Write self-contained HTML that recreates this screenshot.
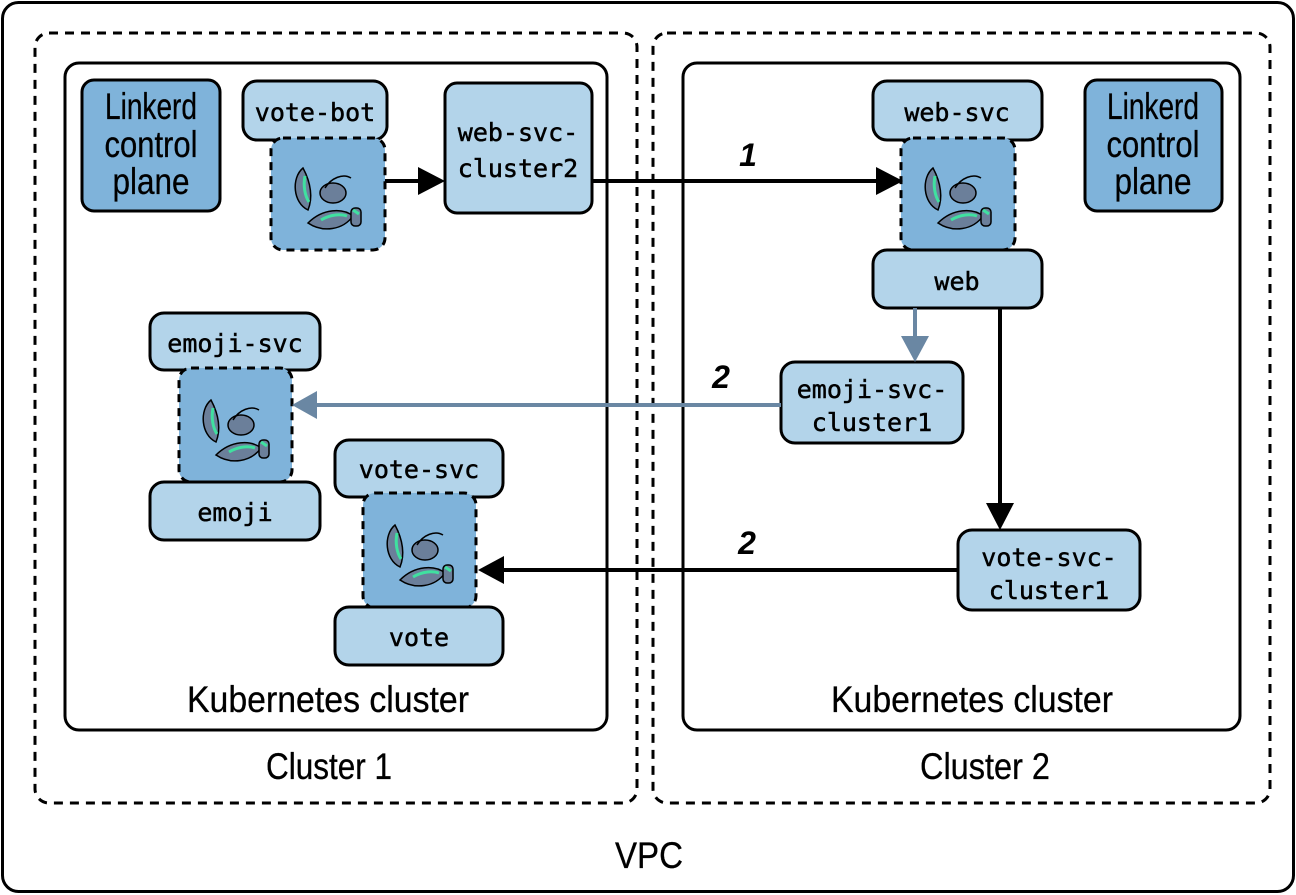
<!DOCTYPE html>
<html><head><meta charset="utf-8"><style>
html,body{margin:0;padding:0;background:#fff;}
svg{display:block}
.m{font-family:"DejaVu Sans Mono","Liberation Mono",monospace;font-size:25px;fill:#000;text-anchor:middle;stroke:#000;stroke-width:0.5}
.s{font-family:"Liberation Sans",sans-serif;font-size:37px;fill:#000;text-anchor:middle;stroke:#000;stroke-width:0.3}
.n{font-family:"Liberation Sans",sans-serif;font-size:32px;font-style:italic;font-weight:bold;fill:#000;text-anchor:middle}
.d{fill:#7fb3da;stroke:#000;stroke-width:3}
.l{fill:#b3d4ea;stroke:#000;stroke-width:3}
.dd{fill:#7fb3da;stroke:#000;stroke-width:3;stroke-dasharray:8 6}
</style></head><body>
<svg width="1296" height="895" viewBox="0 0 1296 895" xmlns="http://www.w3.org/2000/svg">
<defs>
<g id="lob">
 <path d="M20,20 C8,30 10,55 25,62 C30,50 28,35 20,20Z" fill="#6b7f9a" stroke="#000" stroke-width="1.5"/>
 <path d="M22,28 C20,38 22,48 26,54" stroke="#40e0a0" stroke-width="3" fill="none"/>
 <ellipse cx="50" cy="45" rx="13" ry="10" fill="#6b7f9a" stroke="#000" stroke-width="1.5"/>
 <path d="M42,40 C48,30 60,25 68,30" stroke="#000" fill="none" stroke-width="1.5"/>
 <path d="M25,75 C40,60 60,60 70,68 C60,82 40,85 25,75Z" fill="#6b7f9a" stroke="#000" stroke-width="1.5"/>
 <path d="M38,72 C48,66 58,66 64,68" stroke="#40e0a0" stroke-width="3" fill="none"/>
 <rect x="68" y="60" width="10" height="18" rx="4" fill="#6b7f9a" stroke="#000" stroke-width="1.5"/>
 <path d="M70,62 l6,4" stroke="#40e0a0" stroke-width="3"/>
</g>
</defs>
<rect x="2.5" y="2.5" width="1291" height="889" rx="16" fill="none" stroke="#000" stroke-width="3"/>
<rect x="35" y="33" width="602" height="770" rx="14" fill="none" stroke="#000" stroke-width="3" stroke-dasharray="9 7"/>
<rect x="653" y="33" width="617" height="770" rx="14" fill="none" stroke="#000" stroke-width="3" stroke-dasharray="9 7"/>
<rect x="65" y="63" width="542" height="667" rx="14" fill="none" stroke="#000" stroke-width="3"/>
<rect x="683" y="63" width="557" height="667" rx="14" fill="none" stroke="#000" stroke-width="3"/>

<rect class="d" x="82" y="80" width="138" height="131" rx="12"/>
<text class="s" x="151" y="119" textLength="92" lengthAdjust="spacingAndGlyphs">Linkerd</text><text class="s" x="151" y="157" textLength="93" lengthAdjust="spacingAndGlyphs">control</text><text class="s" x="151" y="194" textLength="77" lengthAdjust="spacingAndGlyphs">plane</text>
<rect class="l" x="243" y="81" width="144" height="59" rx="14"/>
<text class="m" x="315" y="121">vote-bot</text>
<rect class="dd" x="271" y="138" width="114" height="112" rx="12"/>
<use href="#lob" x="283" y="148"/>
<rect class="l" x="445" y="83" width="147" height="130" rx="12"/>
<text class="m" x="518" y="141">web-svc-</text><text class="m" x="518" y="177">cluster2</text>
<line x1="385" y1="181" x2="420" y2="181" stroke="#000" stroke-width="4"/>
<polygon points="418,167 445,181 418,195" fill="#000"/>

<rect class="l" x="150" y="313" width="170" height="57" rx="14"/>
<text class="m" x="235" y="352">emoji-svc</text>
<rect class="dd" x="179" y="368" width="113" height="114" rx="12"/>
<use href="#lob" x="191" y="380"/>
<rect class="l" x="150" y="482" width="170" height="58" rx="14"/>
<text class="m" x="235" y="521">emoji</text>

<rect class="l" x="335" y="440" width="168" height="57" rx="14"/>
<text class="m" x="419" y="478">vote-svc</text>
<rect class="dd" x="363" y="493" width="113" height="115" rx="12"/>
<use href="#lob" x="375" y="505"/>
<rect class="l" x="335" y="607" width="168" height="58" rx="14"/>
<text class="m" x="419" y="646">vote</text>

<rect class="d" x="1085" y="80" width="137" height="131" rx="12"/>
<text class="s" x="1153" y="119" textLength="92" lengthAdjust="spacingAndGlyphs">Linkerd</text><text class="s" x="1153" y="157" textLength="93" lengthAdjust="spacingAndGlyphs">control</text><text class="s" x="1153" y="194" textLength="77" lengthAdjust="spacingAndGlyphs">plane</text>
<rect class="l" x="873" y="81" width="169" height="59" rx="14"/>
<text class="m" x="957" y="121">web-svc</text>
<rect class="dd" x="901" y="138" width="114" height="112" rx="12"/>
<use href="#lob" x="913" y="148"/>
<rect class="l" x="873" y="250" width="169" height="58" rx="14"/>
<text class="m" x="957" y="290">web</text>
<rect class="l" x="781" y="362" width="182" height="81" rx="14"/>
<text class="m" x="872" y="398">emoji-svc-</text><text class="m" x="872" y="431">cluster1</text>
<rect class="l" x="958" y="530" width="182" height="80" rx="14"/>
<text class="m" x="1049" y="566">vote-svc-</text><text class="m" x="1049" y="599">cluster1</text>

<line x1="592" y1="181" x2="878" y2="181" stroke="#000" stroke-width="4"/>
<polygon points="876,167 903,181 876,195" fill="#000"/>
<text class="n" x="748" y="166">1</text>
<line x1="915" y1="308" x2="915" y2="338" stroke="#6a87a3" stroke-width="4"/>
<polygon points="901,336 929,336 915,362" fill="#6a87a3"/>
<line x1="781" y1="405" x2="315" y2="405" stroke="#6a87a3" stroke-width="4"/>
<polygon points="317,391 292,405 317,419" fill="#6a87a3"/>
<text class="n" x="721" y="388">2</text>
<line x1="1000" y1="308" x2="1000" y2="505" stroke="#000" stroke-width="4"/>
<polygon points="986,503 1014,503 1000,530" fill="#000"/>
<line x1="958" y1="570" x2="502" y2="570" stroke="#000" stroke-width="4"/>
<polygon points="504,556 478,570 504,584" fill="#000"/>
<text class="n" x="747" y="554">2</text>

<text class="s" x="328" y="712" textLength="282" lengthAdjust="spacingAndGlyphs">Kubernetes cluster</text>
<text class="s" x="972" y="712" textLength="282" lengthAdjust="spacingAndGlyphs">Kubernetes cluster</text>
<text class="s" x="329" y="779" textLength="126" lengthAdjust="spacingAndGlyphs">Cluster 1</text>
<text class="s" x="985" y="779" textLength="130" lengthAdjust="spacingAndGlyphs">Cluster 2</text>
<text class="s" x="649" y="868" textLength="68" lengthAdjust="spacingAndGlyphs">VPC</text>
</svg>
</body></html>
